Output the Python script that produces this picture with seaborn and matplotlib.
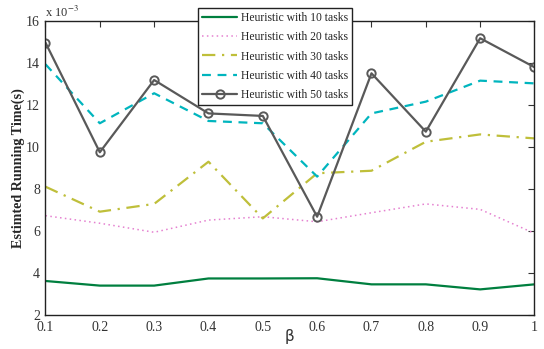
import matplotlib
matplotlib.use("Agg")
import matplotlib.pyplot as plt
import seaborn as sns
import pandas as pd

beta = [0.1, 0.2, 0.3, 0.4, 0.5, 0.6, 0.7, 0.8, 0.9, 1.0]
h10 = [3.62, 3.40, 3.40, 3.74, 3.74, 3.75, 3.46, 3.46, 3.22, 3.46]
h20 = [6.73, 6.37, 5.94, 6.52, 6.68, 6.44, 6.87, 7.29, 7.03, 5.89]
h30 = [8.11, 6.92, 7.29, 9.30, 6.60, 8.75, 8.87, 10.25, 10.60, 10.41]
h40 = [13.94, 11.13, 12.56, 11.24, 11.13, 8.59, 11.60, 12.16, 13.16, 13.03]
h50 = [14.97, 9.75, 13.19, 11.60, 11.48, 6.68, 13.51, 10.73, 15.18, 13.80]
labels = ["Heuristic with 10 tasks", "Heuristic with 20 tasks", "Heuristic with 30 tasks",
          "Heuristic with 40 tasks", "Heuristic with 50 tasks"]
xticklabels = ["0.1", "0.2", "0.3", "0.4", "0.5", "0.6", "0.7", "0.8", "0.9", "1"]
yticks = [2, 4, 6, 8, 10, 12, 14, 16]

sns.set_style("white")
plt.rcParams['font.family'] = ['Liberation Serif', 'DejaVu Serif']
plt.rcParams['mathtext.fontset'] = 'stix'

fig = plt.figure(figsize=(5.44, 3.49), dpi=100)
ax = fig.add_axes([0.0836, 0.0974, 0.8989, 0.8424])

colors = ["#007f3f", "#e580d0", "#bfbf3a", "#00b5be", "#595959"]
styles = [dict(linestyle="-", lw=1.6),
          dict(linestyle=(0, (1, 2.2)), lw=1.1),
          dict(linestyle=(0, (6, 3, 1, 3)), lw=1.6),
          dict(linestyle=(0, (4, 3)), lw=1.6),
          dict(linestyle="-", lw=1.6)]
series = [h10, h20, h30, h40, h50]
for vals, lab, c, st in zip(series, labels, colors, styles):
    df = pd.DataFrame({"beta": beta, "t": vals})
    sns.lineplot(data=df, x="beta", y="t", ax=ax, color=c, label=lab, **st)

last = ax.lines[-1]
last.set_marker("o")
last.set_markersize(6)
last.set_markerfacecolor("none")
last.set_markeredgecolor("#595959")
last.set_markeredgewidth(1.4)

ax.set_xlim(0.1, 1.0)
ax.set_ylim(2, 16)
ax.set_xticks(beta)
ax.set_xticklabels(xticklabels)
ax.set_yticks(yticks)
ax.set_yticklabels([str(v) for v in yticks])
ax.tick_params(direction="in", top=True, right=True, length=4, width=0.8,
               labelsize=10, colors="#333333", labelcolor="#333333", pad=4)
for s in ax.spines.values():
    s.set_color("#222222")
    s.set_linewidth(1.0)
ax.set_xlabel("β", fontsize=11, labelpad=-3, color="#333333", family=['DejaVu Sans'])
ax.set_ylabel("Estimted Running Time(s)", fontsize=10.2, fontweight="bold", labelpad=1)
ax.text(0.0, 1.005, r"x 10$^{-3}$", transform=ax.transAxes, fontsize=9, color="#333333",
        ha="left", va="bottom")

leg = ax.legend(loc="upper left", bbox_to_anchor=(0.364, 0.977), bbox_transform=fig.transFigure,
                fontsize=8.4, frameon=True, fancybox=False, edgecolor="#222222",
                handlelength=3.0, handletextpad=0.3, borderpad=0.35, labelspacing=0.62,
                borderaxespad=0)
leg.get_frame().set_linewidth(1.0)
leg.get_frame().set_alpha(1)

fig.savefig("out.png", dpi=100)
